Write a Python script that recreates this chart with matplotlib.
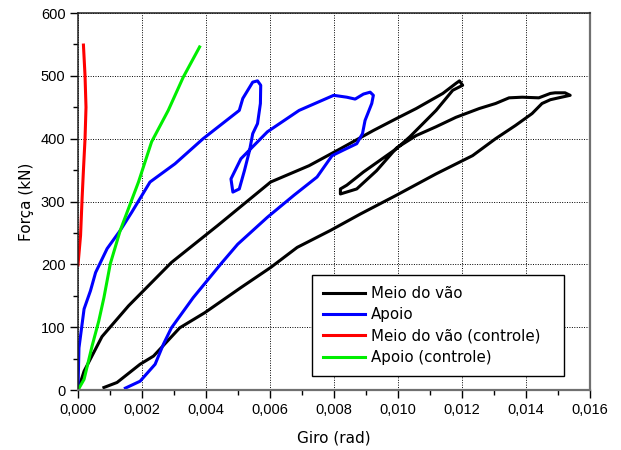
import matplotlib
matplotlib.use("Agg")
import matplotlib.pyplot as plt
from matplotlib.ticker import MultipleLocator, FuncFormatter

# Meio do vão: loading, unloading to small loop, reloading, final unloading
meio_giro = [0.0, 0.00019, 0.00075, 0.00158, 0.00292, 0.00437, 0.00602, 0.00722,
             0.00820, 0.00923, 0.00995, 0.01057, 0.01140, 0.01181, 0.01192, 0.01202,
             0.01171, 0.01119, 0.01037, 0.00995, 0.00892, 0.00840, 0.00820, 0.00820,
             0.00871, 0.00933, 0.00995, 0.01057, 0.01119, 0.01181, 0.01254, 0.01305,
             0.01347, 0.01388, 0.01440, 0.01476, 0.01491, 0.01522, 0.01538, 0.01502,
             0.01476, 0.01450, 0.01419, 0.01367, 0.01305, 0.01233, 0.01119, 0.00995,
             0.00882, 0.00789, 0.00685, 0.00602, 0.00509, 0.00396, 0.00318, 0.00236,
             0.00194, 0.00122, 0.00081]
meio_forca = [0, 30, 85, 134, 203, 262, 331, 357,
              384, 413, 432, 448, 472, 488, 492, 485,
              477, 445, 403, 384, 347, 326, 320, 312,
              320, 349, 385, 405, 419, 434, 448, 456,
              465, 466, 465, 472, 473, 473, 469, 465,
              462, 456, 440, 421, 400, 373, 344, 310,
              280, 254, 227, 195, 163, 123, 99, 54,
              41, 12, 4]

# Apoio
apoio_giro = [0.0, 0.00003, 0.00019, 0.00039, 0.00055, 0.00091, 0.00132, 0.00168,
              0.00225, 0.00303, 0.00391, 0.00504, 0.00515, 0.00546, 0.00561, 0.00571,
              0.00570, 0.00561, 0.00546, 0.00536, 0.00520, 0.00504, 0.00484, 0.00478,
              0.00509, 0.00592, 0.00691, 0.00799, 0.00840, 0.00866, 0.00892, 0.00913,
              0.00923, 0.00918, 0.00897, 0.00889, 0.00871, 0.00830, 0.00794, 0.00747,
              0.00675, 0.00592, 0.00499, 0.00447, 0.00360, 0.00292, 0.00267, 0.00241,
              0.00194, 0.00148]
apoio_forca = [0, 67, 129, 158, 187, 225, 254, 283,
               331, 360, 400, 445, 464, 490, 492, 485,
               456, 424, 408, 381, 349, 320, 315, 336,
               368, 411, 445, 469, 466, 463, 471, 474,
               469, 456, 429, 408, 392, 382, 373, 339,
               310, 275, 232, 201, 147, 99, 73, 41,
               14, 3]

# Meio do vão (controle)
meio_ctrl_giro = [0.0, 0.00008, 0.00013, 0.00017, 0.00022, 0.00025, 0.00022, 0.00017]
meio_ctrl_forca = [199, 246, 307, 350, 400, 450, 500, 549]

# Apoio (controle)
apoio_ctrl_giro = [0.0, 0.00019, 0.00044, 0.00065, 0.00081, 0.00101, 0.00132,
                   0.00189, 0.00230, 0.00282, 0.00329, 0.00380]
apoio_ctrl_forca = [0, 17, 70, 110, 147, 201, 254, 331, 395, 445, 498, 546]

labels = ["Meio do vão", "Apoio", "Meio do vão (controle)", "Apoio (controle)"]
colors = ["black", "#0000ff", "#ff0000", "#00ee00"]


def comma(v, pos, nd):
    return f"{v:.{nd}f}".replace(".", ",")


def main():
    fig = plt.figure(figsize=(6.21, 4.5), dpi=100)
    ax = fig.add_axes([0.1256, 0.1333, 0.8245, 0.8378])

    series = [(meio_giro, meio_forca), (apoio_giro, apoio_forca),
              (meio_ctrl_giro, meio_ctrl_forca), (apoio_ctrl_giro, apoio_ctrl_forca)]
    for (x, y), lab, c in zip(series, labels, colors):
        ax.plot(x, y, color=c, lw=2.2, label=lab, solid_joinstyle='round')

    ax.set_xlim(0, 0.016)
    ax.set_ylim(0, 600)
    ax.xaxis.set_major_locator(MultipleLocator(0.002))
    ax.xaxis.set_minor_locator(MultipleLocator(0.001))
    ax.yaxis.set_major_locator(MultipleLocator(100))
    ax.yaxis.set_minor_locator(MultipleLocator(50))
    ax.xaxis.set_major_formatter(FuncFormatter(lambda v, p: comma(v, p, 3)))
    ax.yaxis.set_major_formatter(FuncFormatter(lambda v, p: comma(v, p, 0)))

    ax.grid(True, which='major', color='black', lw=0.7, linestyle=(0, (1, 1.5)))
    ax.tick_params(which='major', direction='out', length=6, width=1, pad=3,
                   labelsize=10.5, colors='black', top=False, right=False)
    ax.tick_params(which='minor', direction='out', length=3.5, width=1,
                   top=False, right=False)
    for lab in ax.get_xticklabels() + ax.get_yticklabels():
        lab.set_fontfamily('Liberation Sans')

    for side in ['bottom', 'right']:
        ax.spines[side].set_color('#707070')
        ax.spines[side].set_linewidth(1.6)
    for side in ['left', 'top']:
        ax.spines[side].set_color('#202020')
        ax.spines[side].set_linewidth(1.1)

    ax.set_xlabel('Giro (rad)', fontsize=11, labelpad=10)
    ax.set_ylabel('Força (kN)', fontsize=11, labelpad=5)

    leg = ax.legend(loc='lower left', bbox_to_anchor=(0.457, 0.037, 0.492, 0.26),
                    mode='expand', fontsize=10.8, frameon=True, fancybox=False,
                    edgecolor='black', framealpha=1, handlelength=2.8,
                    handletextpad=0.4, labelspacing=0.42, borderpad=0.75,
                    borderaxespad=0)
    leg.get_frame().set_linewidth(1.0)

    fig.savefig('out.png', dpi=100)


if __name__ == "__main__":
    main()
